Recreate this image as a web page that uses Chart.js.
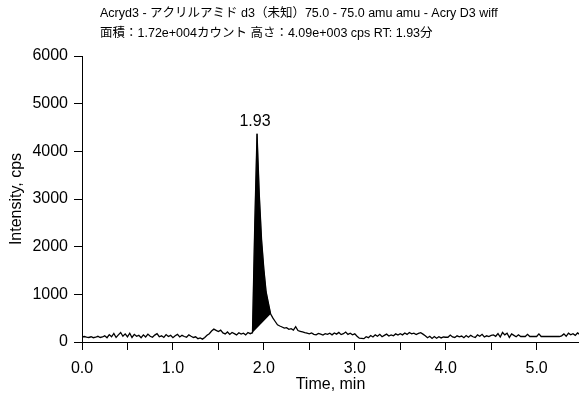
<!DOCTYPE html>
<html>
<head>
<meta charset="utf-8">
<script src="https://cdn.jsdelivr.net/npm/chart.js@4"></script>
<style>
  body { margin: 0; background: #fff; }
</style>
</head>
<body>
<canvas id="grafico" width="579" height="394"></canvas>
<script>
const titulo1 = "Acryd3 - アクリルアミド d3（未知）75.0 - 75.0 amu amu - Acry D3 wiff";
const titulo2 = "面積：1.72e+004カウント 高さ：4.09e+003 cps RT: 1.93分";
const tituloX = "Time, min";
const tituloY = "Intensity, cps";
const etiquetaPico = "1.93";

// muestreo del cromatograma (min)
const tiempoInicio = 0;
const paso = 0.025;
// intensidad (cps), una fila = 0.25 min
const intensidad = [
  105, 115, 100, 95, 110, 90, 100, 120, 95, 105,
  130, 90, 155, 110, 180, 95, 150, 200, 120, 170,
  110, 185, 95, 160, 120, 140, 90, 150, 105, 165,
  120, 100, 145, 175, 110, 130, 95, 155, 115, 140,
  90, 130, 160, 105, 140, 115, 100, 150, 120, 95,
  110, 70, 85, 60, 95, 140, 175, 230, 270, 245,
  220, 250, 190, 170, 210, 160, 200, 175, 150, 195,
  165, 185, 150, 200, 175, 195, 2450, 4370, 3080, 2140,
  1530, 1050, 815, 585, 500, 430, 360, 335, 315, 290,
  300, 265, 280, 250, 320, 240, 225, 210, 195, 185,
  170, 190, 160, 150, 180, 165, 145, 175, 160, 185,
  150, 190, 165, 200, 155, 175, 210, 160, 185, 150,
  170, 120, 80, 75, 70, 110, 90, 135, 105, 150,
  120, 160, 110, 140, 165, 125, 150, 130, 170, 145,
  175, 150, 190, 160, 200, 170, 185, 155, 180, 195,
  165, 130, 90, 120, 75, 115, 80, 110, 85, 105,
  100, 100, 145, 105, 95, 130, 110, 125, 90, 135,
  100, 140, 110, 95, 150, 120, 160, 105, 130, 115,
  140, 150, 120, 175, 105, 200, 150, 185, 95, 170,
  140, 110, 150, 115, 115, 115, 160, 115, 115, 115,
  115, 170, 115, 115, 115, 115, 115, 115, 115, 115,
  115, 130, 170, 120, 185, 150, 175, 140, 190, 160
];
// zona integrada del pico (min)
const picoInicio = 1.875;
const picoFin = 2.075;

const xMin = 0, xMax = 5.466;
const yMin = 0, yMax = 6000, yPaso = 1000;

const fuente = "'Liberation Sans Narrow', 'Liberation Sans', 'Noto Sans CJK JP', sans-serif";

const traza = intensidad.map((v, i) => ({ x: tiempoInicio + i * paso, y: v }));
const pico = traza.filter(p => p.x >= picoInicio - 1e-9 && p.x <= picoFin + 1e-9);
const apice = pico.reduce((a, b) => (b.y > a.y ? b : a));

const textos = {
  id: 'textos',
  afterDraw(chart) {
    const ctx = chart.ctx;
    ctx.save();
    ctx.fillStyle = '#000';
    ctx.font = "12.5px " + fuente;
    ctx.textAlign = 'left';
    ctx.textBaseline = 'middle';
    ctx.fillText(titulo1, 100, 14);
    ctx.fillText(titulo2, 100, 34);

    const x = chart.scales.x.getPixelForValue(apice.x);
    const y = chart.scales.y.getPixelForValue(apice.y);
    ctx.font = "16px " + fuente;
    ctx.textAlign = 'center';
    ctx.textBaseline = 'bottom';
    ctx.fillText(etiquetaPico, x - 2, y - 4);
    ctx.restore();
  }
};

Chart.defaults.font.family = fuente;
Chart.defaults.color = '#000';

new Chart(document.getElementById('grafico').getContext('2d'), {
  type: 'line',
  data: {
    datasets: [{
      data: traza,
      borderColor: '#000',
      borderWidth: 1.3,
      pointRadius: 0,
      tension: 0,
      fill: false
    }, {
      data: pico,
      borderColor: '#000',
      borderWidth: 0.5,
      backgroundColor: '#000',
      pointRadius: 0,
      tension: 0,
      fill: 'shape'
    }]
  },
  options: {
    responsive: false,
    animation: false,
    devicePixelRatio: 1,
    layout: { padding: { top: 56, left: 0, right: 0, bottom: 0 } },
    plugins: { legend: { display: false }, tooltip: { enabled: false } },
    scales: {
      x: {
        type: 'linear',
        min: xMin,
        max: xMax,
        afterFit: s => { s.height = 52; },
        ticks: {
          stepSize: 0.5,
          includeBounds: false,
          autoSkip: false,
          maxRotation: 0,
          padding: 9,
          font: { size: 16 },
          callback: v => (v % 1 === 0 ? v.toFixed(1) : '')
        },
        grid: { drawOnChartArea: false, tickLength: 8, color: '#000' },
        border: { color: '#000' },
        title: { display: true, text: tituloX, font: { size: 16 }, padding: 0 }
      },
      y: {
        min: yMin,
        max: yMax,
        afterFit: s => { s.width = 82; },
        ticks: { stepSize: yPaso, padding: 6, font: { size: 16 }, callback: v => String(v) },
        grid: { drawOnChartArea: false, tickLength: 8, color: '#000' },
        border: { color: '#000' },
        title: { display: true, text: tituloY, font: { size: 16 }, padding: { top: 7, bottom: 0 } }
      }
    }
  },
  plugins: [textos]
});
</script>
</body>
</html>
